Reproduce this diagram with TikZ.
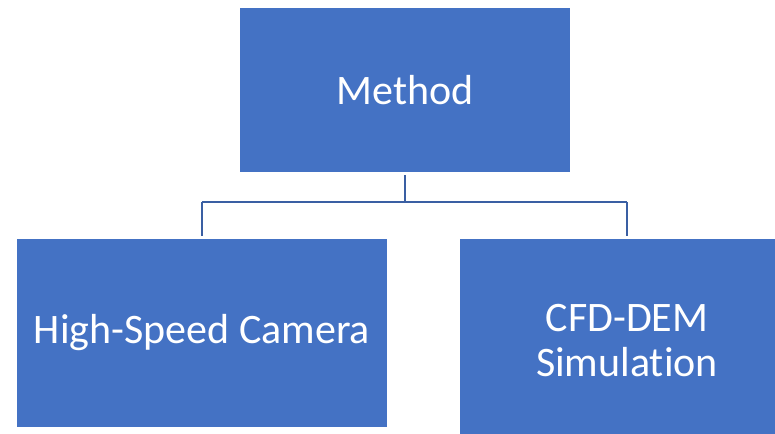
\documentclass[tikz,border=0pt]{standalone}
\usepackage{fontspec}
\setmainfont{Carlito}[Ligatures={NoCommon}]
\definecolor{boxblue}{HTML}{4472C4}
\definecolor{lineblue}{HTML}{3A5FA3}
\begin{document}
\begin{tikzpicture}[x=1pt,y=-1pt,
  box/.style={fill=boxblue,draw=none,text=white,align=center,font=\fontsize{42}{45}\selectfont,inner sep=0pt},
  link/.style={draw=lineblue,line width=2.6pt}]
\useasboundingbox (0,0) rectangle (775,433);
\clip (0,0) rectangle (775,433);
\node[box,minimum width=330pt,minimum height=164pt] (method) at (405,90) {Method};
\node[box,minimum width=370pt,minimum height=188pt] (cam) at (202,333) {High-Speed Camera};
\node[box,minimum width=334pt,minimum height=204pt] (cfd) at (627,341) {CFD-DEM\\Simulat\kern0pt ion};
\coordinate (mid) at (405,202);
\draw[link] ([yshift=-3pt]method.south) -- (mid);
\draw[link] (cam.north |- mid) -- (cfd.north |- mid);
\draw[link] (cam.north |- mid) -- ([yshift=3pt]cam.north);
\draw[link] (cfd.north |- mid) -- ([yshift=3pt]cfd.north);
\end{tikzpicture}
\end{document}
